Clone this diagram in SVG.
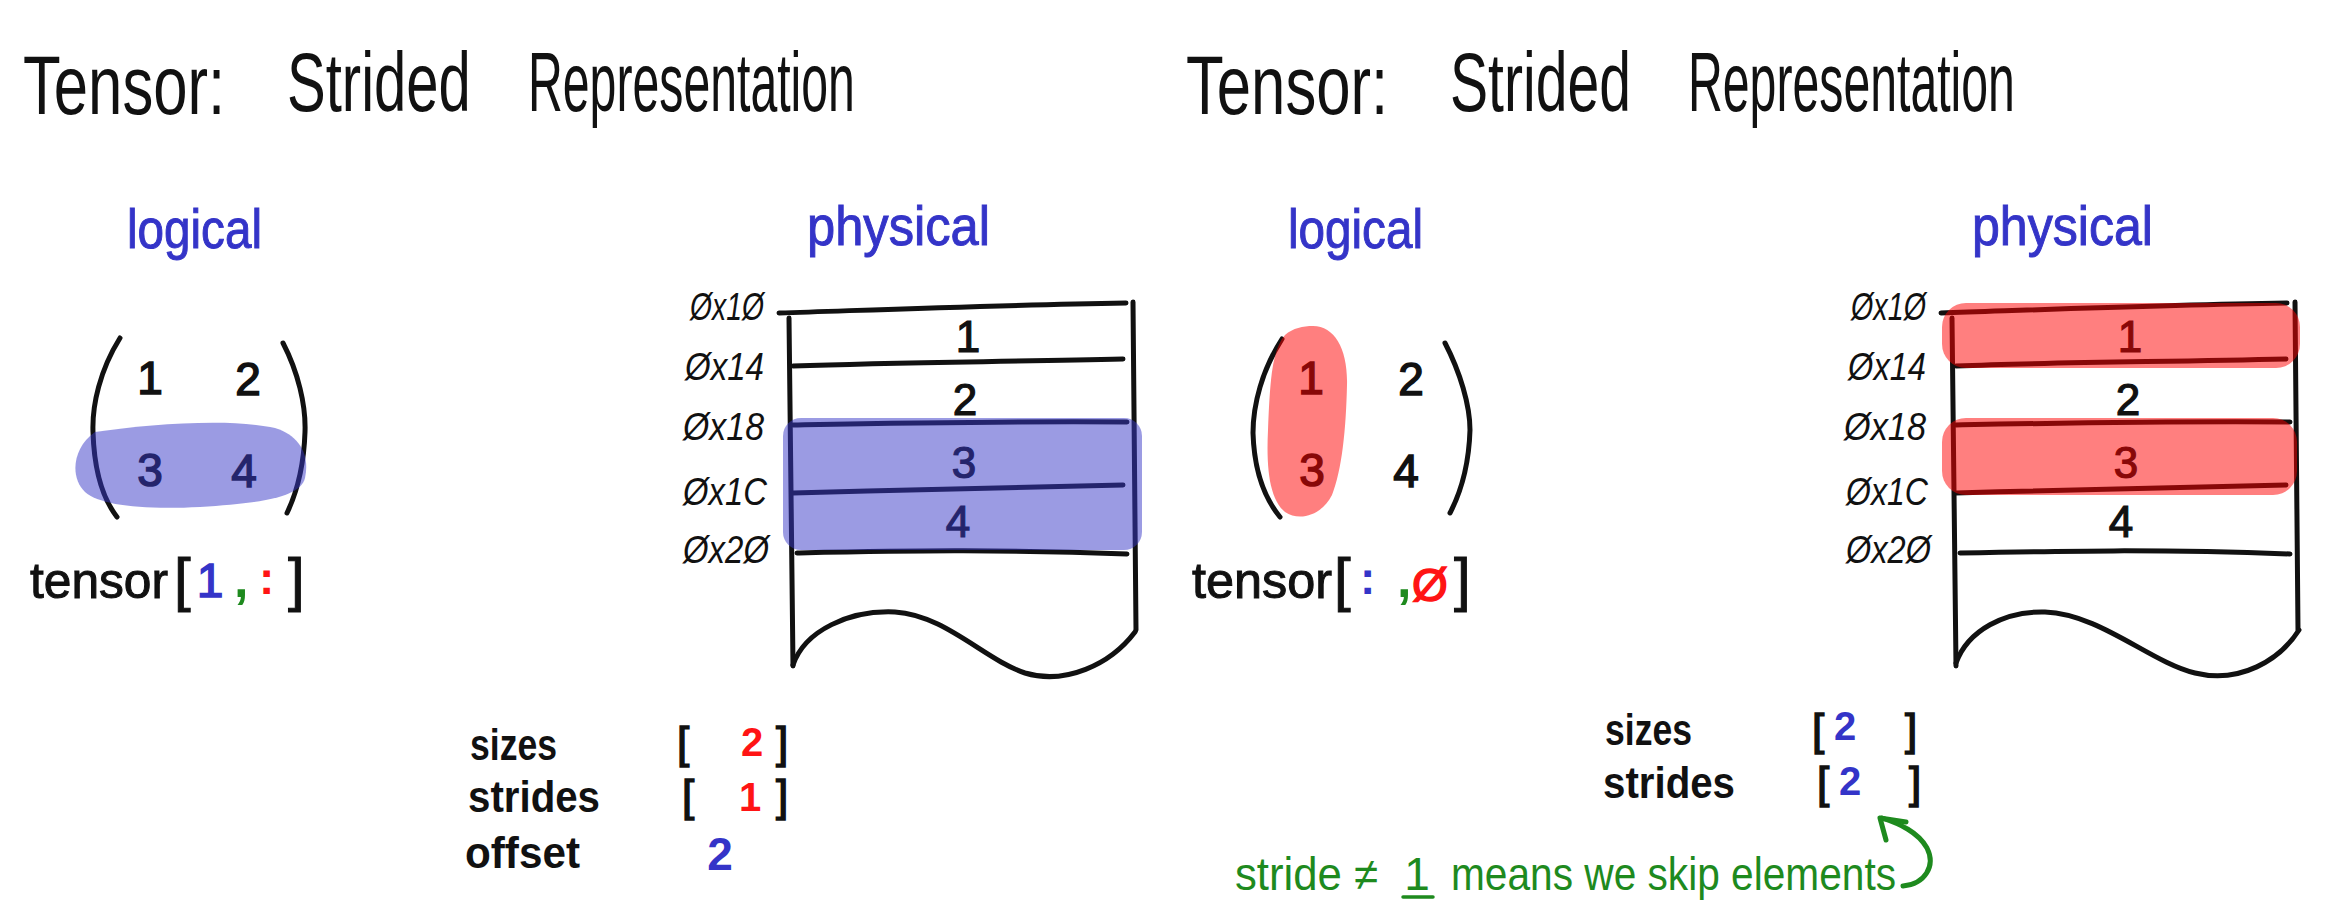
<svg xmlns="http://www.w3.org/2000/svg" width="2326" height="916" viewBox="0 0 2326 916">
<style>
text{font-family:"Liberation Sans",Arial,sans-serif;}
.ink{fill:#111;stroke:#111;stroke-width:1;}
.title{font-size:84px;fill:#111;}
.head{font-size:56px;fill:#3434c8;stroke:#3434c8;stroke-width:1;}
.dig{font-size:46px;fill:#111;stroke:#111;stroke-width:1.5;text-anchor:middle;}
.cell{font-size:44px;fill:#111;stroke:#111;stroke-width:1.2;text-anchor:middle;}
.addr{font-size:38px;fill:#111;font-style:italic;}
.lbl{font-size:45px;fill:#111;font-weight:bold;}
.br{font-size:60px;fill:#111;stroke:#111;stroke-width:1;}
.sbr{font-size:44px;fill:#111;stroke:#111;stroke-width:1.5;}
.line{fill:none;stroke:#111;stroke-width:5;stroke-linecap:round;stroke-linejoin:round;}
.blue{fill:#3434c8;}
.red{fill:#ff1414;}
.green{fill:#1e8a1e;}
.val{font-size:40px;font-weight:bold;text-anchor:middle;}
.hlb{fill:#3838c8;fill-opacity:0.5;}
.hlr{fill:#ff0000;fill-opacity:0.5;}
.arrow{fill:none;stroke:#1e8a1e;stroke-width:5;stroke-linecap:round;stroke-linejoin:round;}
</style>

<!-- ================= LEFT HALF ================= -->
<g id="title-left">
<text class="title" transform="translate(23,114) scale(0.734,1)">Tensor:</text>
<text class="title" transform="translate(287,111) scale(0.691,1)">Strided</text>
<text class="title" transform="translate(528,111) scale(0.574,1)">Representation</text>
</g>

<g id="logical-left">
<text class="head" x="127" y="248" textLength="135" lengthAdjust="spacingAndGlyphs">logical</text>
</g>

<g id="matrix-left">
<path class="line" d="M120,338 C100,370 92,405 93,432 C94,465 100,495 117,517"/>
<path class="line" d="M283,343 C298,372 306,405 305,432 C304,462 298,490 287,513"/>
<text class="dig" x="150" y="394">1</text>
<text class="dig" x="248" y="395">2</text>
<text class="dig" x="150" y="486">3</text>
<text class="dig" x="244" y="487">4</text>
<path class="hlb" d="M95,432 C150,424 230,418 275,428 C300,436 310,455 305,478 C300,498 260,503 200,507 C140,510 100,505 85,492 C70,478 72,448 95,432 Z"/>
</g>

<g id="index-left">
<text class="ink" x="30" y="598" font-size="50" textLength="138" lengthAdjust="spacingAndGlyphs">tensor</text>
<text class="br" x="174" y="600">[</text>
<text class="blue" x="210" y="597" font-size="48" text-anchor="middle" stroke="#3434c8" stroke-width="1.5">1</text>
<text class="green" x="234" y="597" font-size="52" font-weight="bold">,</text>
<text class="red" x="259" y="594" font-size="46" font-weight="bold">:</text>
<text class="br" x="288" y="600">]</text>
</g>

<g id="physical-left">
<text class="head" x="807" y="245" textLength="183" lengthAdjust="spacingAndGlyphs">physical</text>
</g>

<g id="memory-left">
<text class="addr" x="690" y="320" textLength="74" lengthAdjust="spacingAndGlyphs">Øx1Ø</text>
<text class="addr" x="685" y="380" textLength="79" lengthAdjust="spacingAndGlyphs">Øx14</text>
<text class="addr" x="683" y="440" textLength="81" lengthAdjust="spacingAndGlyphs">Øx18</text>
<text class="addr" x="683" y="505" textLength="84" lengthAdjust="spacingAndGlyphs">Øx1C</text>
<text class="addr" x="683" y="563" textLength="86" lengthAdjust="spacingAndGlyphs">Øx2Ø</text>
<path class="line" d="M779,313 C900,309 1000,305 1126,303"/>
<path class="line" d="M789,318 L793,666"/>
<path class="line" d="M1133,302 L1136,630"/>
<path class="line" d="M793,366 C900,362 1000,362 1123,359"/>
<path class="line" d="M793,425 C900,423 1000,421 1127,422"/>
<path class="line" d="M793,493 C900,490 1000,488 1123,485"/>
<path class="line" d="M797,553 C900,551 1000,549 1127,554"/>
<path class="line" d="M793,665 C805,630 850,610 895,612 C945,615 985,660 1025,673 C1065,685 1110,665 1135,632"/>
<text class="cell" x="968" y="352">1</text>
<text class="cell" x="965" y="415">2</text>
<text class="cell" x="964" y="478">3</text>
<text class="cell" x="958" y="537">4</text>
<rect class="hlb" x="783" y="418" width="359" height="132" rx="18"/>
</g>

<g id="meta-left">
<text class="lbl" x="470" y="760" textLength="87" lengthAdjust="spacingAndGlyphs">sizes</text>
<text class="lbl" x="468" y="812" textLength="132" lengthAdjust="spacingAndGlyphs">strides</text>
<text class="lbl" x="465" y="868" textLength="115" lengthAdjust="spacingAndGlyphs">offset</text>
<text class="sbr" x="677" y="758">[</text>
<text class="red val" x="752" y="756">2</text>
<text class="sbr" x="776" y="758">]</text>
<text class="sbr" x="682" y="811">[</text>
<text class="red val" x="750" y="811">1</text>
<text class="sbr" x="776" y="811">]</text>
<text class="blue" x="720" y="870" font-size="46" font-weight="bold" text-anchor="middle">2</text>
</g>

<!-- ================= RIGHT HALF ================= -->
<g id="title-right">
<text class="title" transform="translate(1186,114) scale(0.734,1)">Tensor:</text>
<text class="title" transform="translate(1450,111) scale(0.680,1)">Strided</text>
<text class="title" transform="translate(1688,111) scale(0.574,1)">Representation</text>
</g>

<g id="logical-right">
<text class="head" x="1288" y="248" textLength="135" lengthAdjust="spacingAndGlyphs">logical</text>
</g>

<g id="matrix-right">
<path class="line" d="M1282,339 C1262,370 1253,405 1253,433 C1254,465 1262,495 1280,517"/>
<path class="line" d="M1445,343 C1460,372 1470,405 1470,430 C1469,462 1462,490 1450,513"/>
<text class="dig" x="1311" y="394">1</text>
<text class="dig" x="1411" y="395">2</text>
<text class="dig" x="1312" y="486">3</text>
<text class="dig" x="1406" y="487">4</text>
<path class="hlr" d="M1313,326 C1335,326 1348,350 1347,385 C1346,430 1342,470 1332,495 C1322,515 1300,522 1285,512 C1270,500 1266,470 1268,430 C1270,380 1272,350 1285,335 C1293,328 1303,326 1313,326 Z"/>
</g>

<g id="index-right">
<text class="ink" x="1192" y="598" font-size="50" textLength="140" lengthAdjust="spacingAndGlyphs">tensor</text>
<text class="br" x="1334" y="600">[</text>
<text class="blue" x="1360" y="594" font-size="46" font-weight="bold">:</text>
<text class="green" x="1397" y="597" font-size="52" font-weight="bold">,</text>
<text class="red" x="1430" y="601" font-size="46" text-anchor="middle" stroke="#ff1414" stroke-width="1.5">Ø</text>
<text class="br" x="1454" y="600">]</text>
</g>

<g id="physical-right">
<text class="head" x="1972" y="245" textLength="181" lengthAdjust="spacingAndGlyphs">physical</text>
</g>

<g id="memory-right">
<text class="addr" x="1851" y="320" textLength="75" lengthAdjust="spacingAndGlyphs">Øx1Ø</text>
<text class="addr" x="1848" y="380" textLength="78" lengthAdjust="spacingAndGlyphs">Øx14</text>
<text class="addr" x="1844" y="440" textLength="82" lengthAdjust="spacingAndGlyphs">Øx18</text>
<text class="addr" x="1846" y="505" textLength="82" lengthAdjust="spacingAndGlyphs">Øx1C</text>
<text class="addr" x="1846" y="563" textLength="85" lengthAdjust="spacingAndGlyphs">Øx2Ø</text>
<path class="line" d="M1941,313 C2060,309 2160,305 2287,303"/>
<path class="line" d="M1952,318 L1956,666"/>
<path class="line" d="M2295,302 L2298,630"/>
<path class="line" d="M1956,366 C2060,362 2160,362 2286,359"/>
<path class="line" d="M1956,425 C2060,423 2160,421 2290,422"/>
<path class="line" d="M1956,493 C2060,490 2160,488 2286,485"/>
<path class="line" d="M1960,553 C2060,551 2160,549 2290,554"/>
<path class="line" d="M1956,663 C1968,630 2005,611 2045,612 C2100,614 2150,662 2195,673 C2240,684 2280,660 2299,630"/>
<text class="cell" x="2130" y="352">1</text>
<text class="cell" x="2128" y="415">2</text>
<text class="cell" x="2126" y="478">3</text>
<text class="cell" x="2121" y="537">4</text>
<rect class="hlr" x="1942" y="303" width="358" height="65" rx="24"/>
<rect class="hlr" x="1942" y="418" width="355" height="77" rx="24"/>
</g>

<g id="meta-right">
<text class="lbl" x="1605" y="745" textLength="87" lengthAdjust="spacingAndGlyphs">sizes</text>
<text class="lbl" x="1603" y="798" textLength="132" lengthAdjust="spacingAndGlyphs">strides</text>
<text class="sbr" x="1812" y="745">[</text>
<text class="blue val" x="1845" y="740">2</text>
<text class="sbr" x="1905" y="745">]</text>
<text class="sbr" x="1817" y="798">[</text>
<text class="blue val" x="1850" y="795">2</text>
<text class="sbr" x="1909" y="798">]</text>
</g>

<g id="note-right">
<text class="green" x="1235" y="890" font-size="46" textLength="143" lengthAdjust="spacingAndGlyphs">stride ≠</text>
<text class="green" x="1417" y="890" font-size="46" text-anchor="middle">1</text>
<line x1="1403" y1="897" x2="1433" y2="897" stroke="#1e8a1e" stroke-width="3.5" stroke-linecap="round"/>
<text class="green" x="1451" y="890" font-size="46" textLength="445" lengthAdjust="spacingAndGlyphs">means we skip elements</text>
</g>

<g id="connectors">
<path class="arrow" d="M1903,886 C1925,884 1936,866 1927,848 C1918,832 1900,824 1882,818"/>
<path class="arrow" d="M1886,840 L1880,818 L1906,822"/>
</g>
</svg>
